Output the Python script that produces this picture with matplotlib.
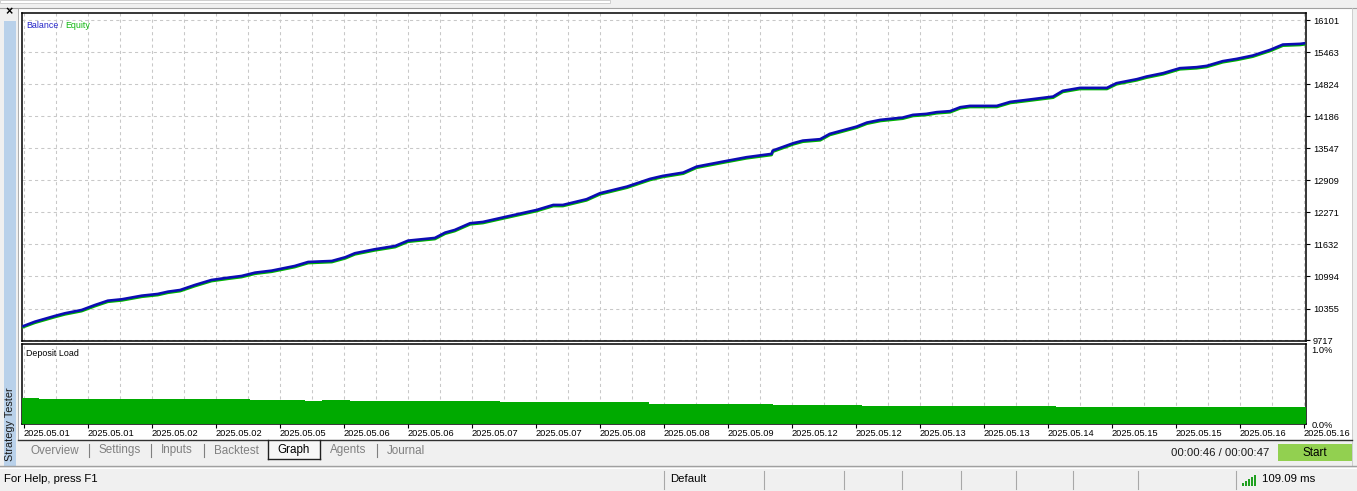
import matplotlib
matplotlib.use("Agg")
import matplotlib.pyplot as plt
from matplotlib.patches import Rectangle
from matplotlib.lines import Line2D

# ---------------- data ----------------
positions = [-0.03, 0.17, 0.48, 0.64, 0.90, 1.11, 1.31, 1.53, 1.84, 2.09,
             2.25, 2.44, 2.67, 2.93, 3.19, 3.40, 3.61, 3.87, 4.23, 4.44,
             4.81, 5.02, 5.17, 5.48, 5.80, 6.00, 6.42, 6.58, 6.73, 6.97,
             7.17, 7.54, 8.01, 8.27, 8.42, 8.79, 9.00, 9.42, 9.78, 9.98,
             10.30, 10.51, 10.92, 11.29, 11.68, 11.70, 12.02, 12.17, 12.44, 12.59,
             13.01, 13.17, 13.38, 13.73, 13.89, 14.10, 14.26, 14.47, 14.63, 14.78,
             15.20, 15.41, 15.67, 16.08, 16.23, 16.50, 16.92, 17.07, 17.39, 17.54,
             17.80, 18.06, 18.32, 18.48, 18.73, 18.95, 19.20, 19.47, 19.67, 19.94,
             20.02]
balance = [9995, 10092, 10206, 10260, 10325, 10425, 10511, 10539, 10611, 10645,
           10691, 10724, 10824, 10924, 10970, 11004, 11070, 11110, 11203, 11283,
           11303, 11377, 11457, 11536, 11602, 11708, 11762, 11868, 11921, 12055,
           12081, 12187, 12320, 12420, 12420, 12534, 12654, 12785, 12939, 12999,
           13065, 13184, 13284, 13372, 13438, 13504, 13651, 13703, 13731, 13837,
           13982, 14062, 14116, 14162, 14216, 14236, 14270, 14290, 14369, 14395,
           14395, 14475, 14515, 14581, 14695, 14754, 14754, 14848, 14928, 14980,
           15048, 15147, 15167, 15193, 15287, 15333, 15399, 15512, 15618, 15632,
           15646]
equity = [9978, 10072, 10186, 10240, 10305, 10405, 10491, 10519, 10591, 10625,
          10671, 10704, 10804, 10904, 10950, 10984, 11050, 11090, 11183, 11263,
          11283, 11357, 11437, 11516, 11582, 11688, 11742, 11848, 11901, 12035,
          12061, 12167, 12300, 12400, 12400, 12514, 12634, 12765, 12919, 12979,
          13045, 13164, 13264, 13352, 13418, 13484, 13631, 13683, 13711, 13817,
          13962, 14042, 14096, 14142, 14196, 14216, 14250, 14270, 14349, 14375,
          14375, 14455, 14495, 14561, 14675, 14734, 14734, 14828, 14908, 14960,
          15028, 15127, 15147, 15173, 15267, 15313, 15379, 15492, 15598, 15612,
          15626]

load_positions = [-0.03, 0.23, 1.19, 3.53, 3.875, 4.39, 4.66, 5.09, 6.89, 7.44,
                  8.80, 9.77, 11.70, 13.09, 16.125, 20.03]
deposit_load = [0.355, 0.342, 0.332, 0.318, 0.328, 0.315, 0.325, 0.315, 0.306, 0.301,
                0.292, 0.274, 0.261, 0.247, 0.234, 0.234]

y_ticks = [9717, 10355, 10994, 11632, 12271, 12909, 13547, 14186, 14824, 15463, 16101]
load_ticks = [0.0, 1.0]
load_tick_labels = ["0.0%", "1.0%"]
date_labels = ["2025.05.01", "2025.05.01", "2025.05.02", "2025.05.02", "2025.05.05",
               "2025.05.06", "2025.05.06", "2025.05.07", "2025.05.07", "2025.05.08",
               "2025.05.08", "2025.05.09", "2025.05.12", "2025.05.12", "2025.05.13",
               "2025.05.13", "2025.05.14", "2025.05.15", "2025.05.15", "2025.05.16",
               "2025.05.16"]
tab_names = ["Overview", "Settings", "Inputs", "Backtest", "Graph", "Agents", "Journal"]

# ---------------- figure ----------------
W, H = 1357, 491
plt.rcParams['font.family'] = ['Liberation Sans', 'DejaVu Sans']
fig = plt.figure(figsize=(W / 100, H / 100), dpi=100, facecolor='#f0f0f0')


def box(x0, y0, x1, y1):
    return [x0 / W, 1 - y1 / H, (x1 - x0) / W, (y1 - y0) / H]


def rect(x0, y0, x1, y1, fc, ec='none', lw=0.0, z=0):
    fig.add_artist(Rectangle((x0 / W, 1 - y1 / H), (x1 - x0) / W, (y1 - y0) / H,
                             transform=fig.transFigure, facecolor=fc, edgecolor=ec,
                             linewidth=lw, zorder=z))


def line(x0, y0, x1, y1, color, lw=0.75, z=1):
    fig.add_artist(Line2D([x0 / W, x1 / W], [1 - y0 / H, 1 - y1 / H],
                          transform=fig.transFigure, color=color, linewidth=lw, zorder=z))


def text(x, y, s, **kw):
    return fig.text(x / W, 1 - y / H, s, **kw)


# window chrome
rect(0, 0, 610, 3, '#ffffff', '#c8c8c8', 0.6)
line(0, 7.5, W, 7.5, '#a0a0a0', 0.8)
rect(18, 8, 1352, 440, '#ffffff')
line(18, 440, 1352, 440, '#303030', 1.0, 2)
line(18, 8, 18, 440, '#a0a0a0', 0.6)
line(1352, 8, 1352, 466, '#c8c8c8', 0.6)

# left strip
rect(4, 21, 16, 466, '#b9d1ea')
text(9, 12, "×", fontsize=9, fontweight='bold', ha='center', va='center', color='#000000')
text(10, 424, "Strategy Tester", fontsize=7.8, rotation=90, ha='center', va='center', color='#1a1a1a')

GRID = dict(color='#c8c8c8', linestyle=(0, (3, 3)), linewidth=0.75)
XMIN, XMAX = -0.03125, 20.03125

# ---------------- main axes ----------------
ax = fig.add_axes(box(22, 13, 1306, 341))
ax.set_facecolor('white')
ax.plot(positions, equity, color='#00b400', linewidth=2.1, solid_capstyle='butt', zorder=3)
ax.plot(positions, balance, color='#0c0cb4', linewidth=1.9, solid_capstyle='butt', zorder=4)
ax.set_xlim(XMIN, XMAX)
ax.set_ylim(9707, 16247)
ax.set_yticks(y_ticks)
ax.set_yticklabels([str(v) for v in y_ticks])
ax.yaxis.tick_right()
ax.tick_params(axis='y', direction='out', length=3, width=0.8, pad=2, labelsize=6.7,
               colors='black')
ax.set_xticks(range(0, 21))
ax.set_xticks([i + 0.5 for i in range(20)], minor=True)
ax.tick_params(axis='x', which='both', length=0, labelbottom=False)
ax.grid(True, which='both', **GRID)
for s in ax.spines.values():
    s.set_color('black')
    s.set_linewidth(1.1)
t1 = ax.text(0.003, 0.975, "Balance", transform=ax.transAxes, fontsize=6.4, color='#2525c8',
             ha='left', va='top')
t2 = ax.annotate(" / ", xy=(1, 0), xycoords=t1, va='bottom', ha='left',
                 fontsize=6.4, color='#808080')
ax.annotate("Equity", xy=(1, 0), xycoords=t2, va='bottom', ha='left',
            fontsize=6.4, color='#10b810')

# ---------------- deposit load axes ----------------
ax2 = fig.add_axes(box(22, 343.5, 1306, 424))
ax2.set_facecolor('white')
ax2.fill_between(load_positions, 0, deposit_load, step='post', color='#00aa00',
                 linewidth=0, zorder=3)
ax2.set_xlim(XMIN, XMAX)
ax2.set_ylim(0, 1.085)
ax2.set_yticks(load_ticks)
ax2.set_yticklabels(load_tick_labels)
ax2.yaxis.tick_right()
ax2.tick_params(axis='y', length=0, pad=4, labelsize=6.7, colors='black')
ax2.set_xticks(range(0, 21))
ax2.set_xticklabels(date_labels)
ax2.set_xticks([i + 0.5 for i in range(20)], minor=True)
ax2.tick_params(axis='x', which='major', direction='out', length=3, width=0.8, pad=0.5,
                labelsize=6.7, colors='black')
ax2.tick_params(axis='x', which='minor', length=0)
for lbl in ax2.get_xticklabels():
    lbl.set_ha('left')
ax2.grid(True, which='both', axis='x', **GRID)
for s in ax2.spines.values():
    s.set_color('black')
    s.set_linewidth(1.1)
ax2.text(0.003, 0.93, "Deposit Load", transform=ax2.transAxes, fontsize=6.4,
         color='black', ha='left', va='top')

# ---------------- tabs row ----------------
tab_x = [55, 120, 177, 236, 294, 348, 406]
for name, x in zip(tab_names, tab_x):
    text(x, 450.5, name, fontsize=8.4, ha='center', va='center',
         color='black' if name == "Graph" else '#808080')
rect(268, 440, 320, 458.5, '#f7f7f7', z=1)
line(268, 440, 268, 458.5, '#202020', 1.0, 2)
line(320, 440, 320, 458.5, '#202020', 1.0, 2)
line(268, 458.5, 320, 458.5, '#202020', 1.0, 2)
for sx in [89, 151, 204, 377]:
    line(sx, 444, sx, 457, '#808080', 0.8)
text(1269, 452.5, "00:00:46 / 00:00:47", fontsize=8.2, ha='right', va='center', color='#1a1a1a')
rect(1278, 443.5, 1352, 461, '#92d050')
text(1315, 452.5, "Start", fontsize=8.4, ha='center', va='center', color='black')

# ---------------- status bar ----------------
line(0, 466, W, 466, '#a0a0a0', 1.0)
line(0, 467.5, W, 467.5, '#ffffff', 0.8)
text(4, 479.5, "For Help, press F1", fontsize=8.2, ha='left', va='center', color='black')
text(670, 479.5, "Default", fontsize=8.2, ha='left', va='center', color='black')
for sx in [664, 764, 844, 902, 961, 1016, 1073, 1138, 1236]:
    line(sx, 471, sx, 489, '#a8a8a8', 0.8)
for i, hgt in enumerate([3, 5, 7, 9, 11]):
    rect(1242 + i * 3, 486 - hgt, 1244 + i * 3, 486, '#20a020')
text(1262, 479.5, "109.09 ms", fontsize=8.2, ha='left', va='center', color='black')

fig.savefig("out.png", dpi=100, facecolor=fig.get_facecolor())
